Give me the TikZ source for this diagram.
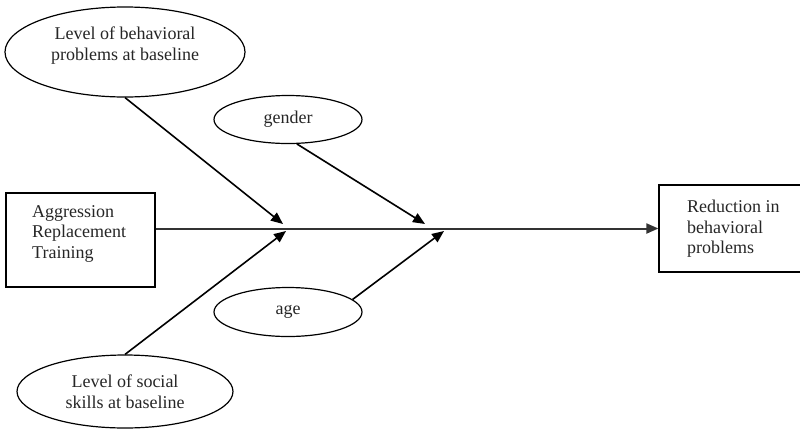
\documentclass[tikz,border=0pt]{standalone}
\usepackage{fontspec}
\setmainfont{Liberation Serif}
\usetikzlibrary{shapes.geometric,arrows.meta}
\begin{document}
\begin{tikzpicture}[x=1pt,y=-1pt,
  every node/.style={font=\fontsize{18}{20.5}\selectfont, text=black!85},
  oval/.style={draw, ellipse, line width=1.2pt, inner sep=0pt, align=center},
  boxnode/.style={draw, rectangle, line width=1.2pt, inner sep=0pt, align=left},
  arr/.style={line width=1.6pt, -{Triangle[length=12pt,width=10pt]}},
  mainline/.style={line width=2pt, draw=black!80, -{Triangle[length=12pt,width=10pt]}}]
\useasboundingbox (0,0) rectangle (800,429);
% nodes
\node[oval, minimum width=240, minimum height=90] (tl) at (125,52) {Level of behavioral\\problems at baseline\\[-4pt]};
\node[oval, minimum width=148, minimum height=48] (g) at (288,119.5) {gender};
\node[oval, minimum width=148, minimum height=49] (a) at (288,312) {age};
\node[oval, minimum width=216, minimum height=73] (bl) at (125,391.5) {Level of social\\skills at baseline};
\node[boxnode, minimum width=149, minimum height=94] (art) at (80.5,240) {};
\node[anchor=north west, inner sep=0pt, align=left] (artt) at (32,205) {Aggression\\Replacement\\Training};
\node[boxnode, minimum width=142, minimum height=87] (rb) at (730,228.5) {};
\node[anchor=north west, inner sep=0pt, align=left] (rbt) at (687,200) {Reduction in\\behavioral\\problems};
% junction coordinates
\coordinate (t1) at (283,224);
\coordinate (t2) at (425,224);
\coordinate (b1) at (286,231);
\coordinate (b2) at (444,231);
% connectors
\draw[mainline] (art.east |- rb.west) -- (rb.west);
\draw[arr] (tl.south) -- (t1);
\draw[arr] (g.-70) -- (t2);
\draw[arr] (bl.north) -- (b1);
\draw[arr] (a.11) -- (b2);
\end{tikzpicture}
\end{document}
